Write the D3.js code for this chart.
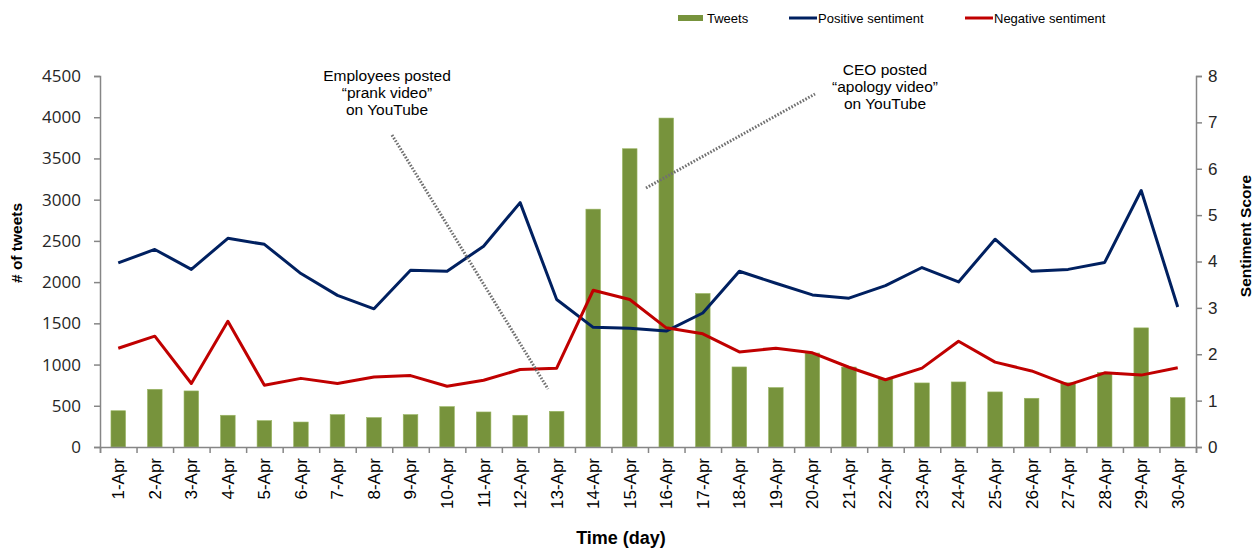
<!DOCTYPE html>
<html><head><meta charset="utf-8">
<script src="https://cdn.jsdelivr.net/npm/d3@7"></script>
<style>body{margin:0;background:#fff;} svg{display:block;}</style>
</head><body>
<svg id="c" width="1254" height="548"></svg>
<script>
const categories = ["1-Apr","2-Apr","3-Apr","4-Apr","5-Apr","6-Apr","7-Apr","8-Apr","9-Apr","10-Apr","11-Apr","12-Apr","13-Apr","14-Apr","15-Apr","16-Apr","17-Apr","18-Apr","19-Apr","20-Apr","21-Apr","22-Apr","23-Apr","24-Apr","25-Apr","26-Apr","27-Apr","28-Apr","29-Apr","30-Apr"];
const tweets = [440,700,680,385,320,303,393,357,393,490,425,385,433,2885,3618,3990,1862,971,721,1140,970,830,777,789,668,591,780,905,1445,600];
const positive = [3.97,4.26,3.83,4.50,4.37,3.74,3.27,2.98,3.81,3.79,4.33,5.27,3.18,2.58,2.56,2.50,2.89,3.79,3.53,3.28,3.21,3.48,3.87,3.56,4.48,3.79,3.83,3.98,5.53,3.02];
const negative = [2.13,2.39,1.37,2.71,1.33,1.48,1.37,1.51,1.54,1.31,1.44,1.67,1.70,3.38,3.18,2.57,2.44,2.05,2.13,2.03,1.72,1.45,1.70,2.28,1.83,1.64,1.34,1.60,1.55,1.71];
const leftTicks = [0,500,1000,1500,2000,2500,3000,3500,4000,4500];
const rightTicks = [0,1,2,3,4,5,6,7,8];
const legendItems = [["Tweets","bar"],["Positive sentiment","pos"],["Negative sentiment","neg"]];
const annotations = [
  {lines:["Employees posted","\u201cprank video\u201d","on YouTube"], tx:387, ty:81, from:[392,135], to:[548,389]},
  {lines:["CEO posted","\u201capology video\u201d","on YouTube"], tx:885, ty:75, from:[646,188], to:[815,94]}
];

const svg = d3.select("#c");
const L = 100, R = 1196, B = 447, T = 76;
const axisColor = "#868686";
const barColor = "#77933C", posColor = "#002060", negColor = "#C00000";

const x = d3.scaleBand().domain(categories).range([L, R]).paddingInner(0.6).paddingOuter(0.3);
const xEdge = d3.scaleLinear().domain([0, categories.length]).range([L, R]);
const yL = d3.scaleLinear().domain([0, 4500]).range([B, T]);
const yR = d3.scaleLinear().domain([0, 8]).range([B, T]);
const cx = d => x(d) + x.bandwidth() / 2;

// bars
svg.append("g").selectAll("rect").data(tweets).join("rect")
  .attr("x", (d,i) => x(categories[i]))
  .attr("width", x.bandwidth())
  .attr("y", d => yL(d))
  .attr("height", d => B - yL(d))
  .attr("fill", barColor)
  .attr("stroke", "#9bb765").attr("stroke-width", 0.6);

// lines
const line = (arr) => d3.line().x((d,i) => cx(categories[i])).y(d => yR(d))(arr);
svg.append("path").attr("d", line(positive)).attr("fill","none").attr("stroke",posColor).attr("stroke-width",3).attr("stroke-linejoin","round");
svg.append("path").attr("d", line(negative)).attr("fill","none").attr("stroke",negColor).attr("stroke-width",3).attr("stroke-linejoin","round");

// left axis
const gl = svg.append("g").attr("transform", `translate(${L},0)`)
  .call(d3.axisLeft(yL).tickValues(leftTicks).tickSize(6).tickPadding(13).tickFormat(d3.format("d")));
gl.selectAll("text").attr("font-family","'Open Sans', sans-serif").attr("font-size",17).attr("fill","#262626");

// right axis
const gr = svg.append("g").attr("transform", `translate(${R},0)`)
  .call(d3.axisRight(yR).tickValues(rightTicks).tickSize(6).tickPadding(6));
gr.selectAll("text").attr("font-family","'Liberation Sans', Arial, sans-serif").attr("font-size",17).attr("fill","#262626");

// bottom axis: tick marks at band edges
const gb = svg.append("g").attr("transform", `translate(0,${B})`)
  .call(d3.axisBottom(xEdge).tickValues(d3.range(categories.length + 1)).tickSize(6).tickFormat(""));
// bottom labels
const gbl = svg.append("g").attr("transform", `translate(0,${B})`)
  .call(d3.axisBottom(x).tickSize(0).tickPadding(0));
gbl.select(".domain").remove();
gbl.selectAll("text")
  .attr("transform","rotate(-90)")
  .attr("x", -11).attr("y", 0).attr("dy","0.35em")
  .attr("text-anchor","end")
  .attr("font-family","'Liberation Sans', Arial, sans-serif").attr("font-size",17).attr("fill","#000");

[gl, gr, gb].forEach(g => { g.selectAll(".domain, line").attr("stroke", axisColor).attr("stroke-width",1.5); });

// axis titles
svg.append("text").attr("transform", `translate(22,243) rotate(-90)`).attr("text-anchor","middle")
  .attr("font-family","'Liberation Sans', Arial, sans-serif").attr("font-weight","bold").attr("font-size",15.5).text("# of tweets");
svg.append("text").attr("transform", `translate(1251,236) rotate(-90)`).attr("text-anchor","middle")
  .attr("font-family","'Liberation Sans', Arial, sans-serif").attr("font-weight","bold").attr("font-size",15.5).text("Sentiment Score");
svg.append("text").attr("x", 621).attr("y", 543.5).attr("text-anchor","middle")
  .attr("font-family","'Liberation Sans', Arial, sans-serif").attr("font-weight","bold").attr("font-size",18).text("Time (day)");

// legend
const legX = [678, 789, 965];
const lg = svg.append("g").attr("font-family","'Liberation Sans', Arial, sans-serif").attr("font-size",13);
legendItems.forEach((it, i) => {
  const g = lg.append("g").attr("transform", `translate(${legX[i]},18)`);
  if (it[1] === "bar") g.append("rect").attr("x",0).attr("y",-3).attr("width",25).attr("height",6).attr("fill",barColor);
  else g.append("line").attr("x1",0).attr("x2",28).attr("y1",0).attr("y2",0).attr("stroke", it[1]==="pos"?posColor:negColor).attr("stroke-width",3);
  g.append("text").attr("x", it[1]==="bar"?29:29).attr("y",0).attr("dy","0.35em").text(it[0]);
});

// annotations
annotations.forEach(a => {
  svg.append("line").attr("x1",a.from[0]).attr("y1",a.from[1]).attr("x2",a.to[0]).attr("y2",a.to[1])
    .attr("stroke","#707070").attr("stroke-width",3).attr("stroke-dasharray","1.6,1.6");
  const t = svg.append("text").attr("text-anchor","middle")
    .attr("font-family","'Liberation Sans', Arial, sans-serif").attr("font-size",15.5).attr("fill","#000");
  a.lines.forEach((s, i) => t.append("tspan").attr("x", a.tx).attr("y", a.ty + i*16.8).text(s));
});
</script>
</body></html>
